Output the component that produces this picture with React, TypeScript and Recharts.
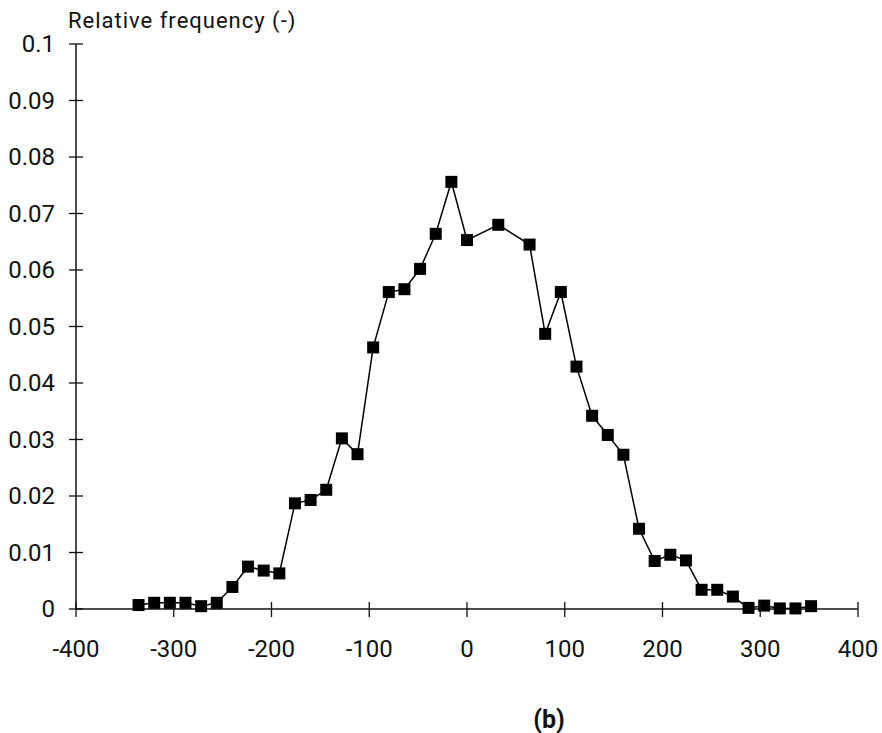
import { LineChart, Line, XAxis, YAxis } from 'recharts';

const xValues = [
  -336, -320, -304, -288, -272, -256, -240, -224, -208, -192, -176, -160, -144,
  -128, -112, -96, -80, -64, -48, -32, -16, 0, 32, 64, 80, 96, 112, 128, 144,
  160, 176, 192, 208, 224, 240, 256, 272, 288, 304, 320, 336, 352,
];

const frequencies = [
  0.0007, 0.0011, 0.0011, 0.0011, 0.0005, 0.0011, 0.0039, 0.0075, 0.0068,
  0.0063, 0.0187, 0.0193, 0.0211, 0.0302, 0.0274, 0.0463, 0.0561, 0.0566,
  0.0602, 0.0664, 0.0756, 0.0653, 0.068, 0.0645, 0.0487, 0.0561, 0.0429,
  0.0342, 0.0308, 0.0273, 0.0142, 0.0085, 0.0096, 0.0086, 0.0034, 0.0034,
  0.0022, 0.0002, 0.0006, 0.0001, 0.0001, 0.0005,
];

const xTicks = [-400, -300, -200, -100, 0, 100, 200, 300, 400];
const yTicks = [0, 0.01, 0.02, 0.03, 0.04, 0.05, 0.06, 0.07, 0.08, 0.09, 0.1];

const data = xValues.map((x, i) => ({ x, freq: frequencies[i] }));

const FONT = 'Roboto, sans-serif';
const INK = '#111';

// ticks cross the axis line, so draw them here instead of tickLine
function YTick({ x, y, payload }: any) {
  const axisX = x + 21;
  return (
    <g>
      <line x1={axisX - 7} x2={axisX + 7} y1={y} y2={y} stroke={INK} strokeWidth={1.3} />
      <text x={x} y={y} textAnchor="end" dominantBaseline="central" fontFamily={FONT} fontSize={24} fill={INK}>
        {payload.value}
      </text>
    </g>
  );
}

function XTick({ x, y, payload }: any) {
  const axisY = y - 40;
  return (
    <g>
      <line x1={x} x2={x} y1={axisY - 7} y2={axisY + 8} stroke={INK} strokeWidth={1.3} />
      <text x={x} y={y} textAnchor="middle" dominantBaseline="central" fontFamily={FONT} fontSize={24} fill={INK}>
        {payload.value}
      </text>
    </g>
  );
}

function SquareDot({ cx, cy, index }: any) {
  return <rect key={`dot-${index}`} x={cx - 6} y={cy - 6} width={12} height={12} fill="#000" />;
}

export default function App() {
  return (
    <div style={{ position: 'absolute', left: 0, top: 0, width: 882, height: 733, background: '#fff' }}>
      <div
        style={{
          position: 'absolute',
          left: 68,
          top: 8,
          fontFamily: FONT,
          fontSize: 22,
          lineHeight: '26px',
          color: INK,
          letterSpacing: '1px',
        }}
      >
        Relative frequency (-)
      </div>

      <LineChart width={882} height={733} data={data} margin={{ top: 44, right: 24, bottom: 0, left: 0 }}>
        <XAxis
          dataKey="x"
          type="number"
          domain={[-400, 400]}
          ticks={xTicks}
          height={124}
          tickSize={0}
          tickMargin={40}
          tickLine={false}
          tick={XTick}
          axisLine={{ stroke: INK, strokeWidth: 1.5 }}
          interval={0}
        />
        <YAxis
          type="number"
          domain={[0, 0.1]}
          ticks={yTicks}
          width={76}
          tickSize={0}
          tickMargin={21}
          tickLine={false}
          tick={YTick}
          axisLine={{ stroke: INK, strokeWidth: 1.5 }}
          interval={0}
        />
        <Line
          dataKey="freq"
          type="linear"
          stroke="#000"
          strokeWidth={1.5}
          dot={SquareDot}
          activeDot={false}
          isAnimationActive={false}
        />
      </LineChart>

      <div
        style={{
          position: 'absolute',
          left: 549,
          top: 719,
          transform: 'translate(-50%, -50%)',
          fontFamily: FONT,
          fontSize: 25,
          fontWeight: 'bold',
          color: INK,
        }}
      >
        (b)
      </div>
    </div>
  );
}
